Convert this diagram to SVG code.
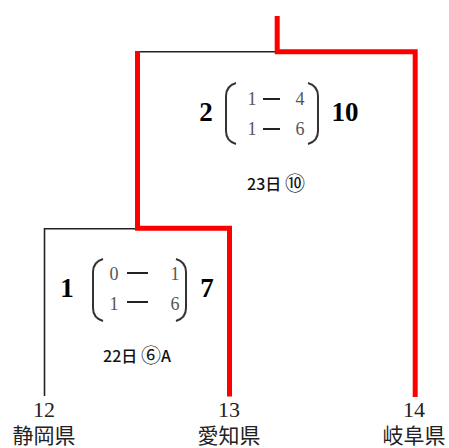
<svg xmlns="http://www.w3.org/2000/svg" width="449" height="448" viewBox="0 0 449 448">
<style>
.red{fill:none;stroke:#ff0000;stroke-width:5;stroke-linejoin:miter}
.blk{fill:none;stroke:#222;stroke-width:1.6}
.par{fill:none;stroke:#333;stroke-width:2}
.dash{stroke:#222;stroke-width:2}
.big{font-family:"Liberation Serif",serif;font-weight:bold;font-size:27px;fill:#000;text-anchor:middle}
.sc{font-family:"Liberation Serif",serif;font-size:18px;fill:#555;text-anchor:middle}
.num{font-family:"Liberation Serif",serif;font-size:22px;fill:#222;text-anchor:middle}
.pref{font-family:"Noto Sans CJK JP",sans-serif;font-size:21px;fill:#222;text-anchor:middle}
.date{font-family:"Noto Sans CJK JP",sans-serif;font-size:16px;font-weight:500;fill:#111;text-anchor:middle}
.circ{font-size:20px;font-weight:normal}
</style>
<g id="connectors">
<path class="blk" d="M44.5,396 V228.8 H137.5"/>
<path class="blk" d="M137.5,51.8 H277"/>
<path class="red" d="M137.5,51 V228.3 H229.5 V396.5"/>
<path class="red" d="M277.2,16 V51.7 H415.2 V397"/>
</g>
<g id="team12">
<text class="num" x="44" y="417">12</text>
<text class="pref" x="44" y="443">静岡県</text>
</g>
<g id="team13">
<text class="num" x="229" y="417">13</text>
<text class="pref" x="229" y="443">愛知県</text>
</g>
<g id="team14">
<text class="num" x="414" y="417">14</text>
<text class="pref" x="414" y="443">岐阜県</text>
</g>
<g id="match1">
<text class="big" x="67" y="297">1</text>
<text class="big" x="207" y="297">7</text>
<path class="par" d="M103,259 Q93,262 93,272 V308 Q93,318 103,321"/>
<path class="par" d="M176,259 Q186,262 186,272 V308 Q186,318 176,321"/>
<text class="sc" x="114" y="280">0</text>
<line class="dash" x1="127" y1="273" x2="148" y2="273"/>
<text class="sc" x="175" y="280">1</text>
<text class="sc" x="114" y="310">1</text>
<line class="dash" x1="127" y1="302" x2="148" y2="302"/>
<text class="sc" x="175" y="310">6</text>
<text class="date" x="137" y="362">22日 <tspan class="circ" dy="1">⑥</tspan><tspan dy="-1">A</tspan></text>
</g>
<g id="match2">
<text class="big" x="206" y="121">2</text>
<text class="big" x="345" y="121">10</text>
<path class="par" d="M236,83 Q226,86 226,96 V131 Q226,141 236,144"/>
<path class="par" d="M308,83 Q318,86 318,96 V131 Q318,141 308,144"/>
<text class="sc" x="252" y="105">1</text>
<line class="dash" x1="263" y1="99" x2="280" y2="99"/>
<text class="sc" x="300" y="105">4</text>
<text class="sc" x="252" y="135">1</text>
<line class="dash" x1="263" y1="129" x2="280" y2="129"/>
<text class="sc" x="300" y="135">6</text>
<text class="date" x="276" y="190">23日 <tspan class="circ" dy="1">⑩</tspan></text>
</g>
</svg>
